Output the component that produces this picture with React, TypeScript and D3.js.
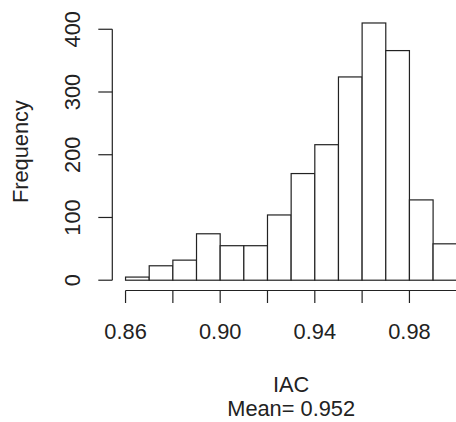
import React from 'react'
import * as d3 from 'd3'

// histogram of IAC values
const breaks = [0.86, 0.87, 0.88, 0.89, 0.9, 0.91, 0.92, 0.93, 0.94, 0.95, 0.96, 0.97, 0.98, 0.99, 1.0]
const counts = [5, 23, 32, 74, 55, 55, 104, 170, 216, 324, 410, 366, 128, 58]
const xTicks = [0.86, 0.88, 0.9, 0.92, 0.94, 0.96, 0.98, 1.0]
const xTickLabels = ['0.86', '', '0.90', '', '0.94', '', '0.98', '']
const yTicks = [0, 100, 200, 300, 400]
const xTitle = 'IAC'
const subTitle = 'Mean= 0.952'
const yTitle = 'Frequency'

export default function App() {
    const width = 456
    const height = 422
    const font = '"Liberation Sans", Arial, Helvetica, sans-serif'
    const fs = 21.8
    const ink = '#222'

    // R style 4% axis expansion
    const xExt = (breaks[breaks.length - 1] - breaks[0]) * 0.04
    const x = d3.scaleLinear()
        .domain([breaks[0] - xExt, breaks[breaks.length - 1] + xExt])
        .range([112.3, 470])
    const yMax = d3.max(counts) as number
    const y = d3.scaleLinear()
        .domain([-yMax * 0.04, yMax * 1.04])
        .range([290.5, 12.7])

    const axisY = x.range()[0]
    const axisX = y.range()[0]
    const midX = (x.range()[0] + x.range()[1]) / 2
    const midY = (y.range()[0] + y.range()[1]) / 2

    return (
        <svg width={width} height={height} style={{ position: 'absolute', left: 0, top: 0, background: '#fff' }}
            fontFamily={font} fontSize={fs}>
            {/* Bars */}
            <g fill="#fff" stroke={ink} strokeWidth={1.2}>
                {counts.map((c, i) => (
                    <rect key={i}
                        x={x(breaks[i])}
                        y={y(c)}
                        width={x(breaks[i + 1]) - x(breaks[i])}
                        height={y(0) - y(c)} />
                ))}
            </g>
            {/* X axis */}
            <g stroke={ink} strokeWidth={1.2}>
                <line x1={x(xTicks[0])} x2={x(xTicks[xTicks.length - 1])} y1={axisX} y2={axisX} />
                {xTicks.map((t) => (
                    <line key={t} x1={x(t)} x2={x(t)} y1={axisX} y2={axisX + 12.5} />
                ))}
            </g>
            {xTicks.map((t, i) => (
                <text key={t} x={x(t)} y={339} textAnchor="middle" fill={ink}>{xTickLabels[i]}</text>
            ))}
            {/* Y axis */}
            <g stroke={ink} strokeWidth={1.2}>
                <line x1={axisY} x2={axisY} y1={y(yTicks[0])} y2={y(yTicks[yTicks.length - 1])} />
                {yTicks.map((t) => (
                    <line key={t} x1={axisY - 14} x2={axisY} y1={y(t)} y2={y(t)} />
                ))}
            </g>
            {yTicks.map((t) => (
                <text key={t} transform={`translate(80,${y(t)}) rotate(-90)`} textAnchor="middle" fill={ink}>{t}</text>
            ))}
            {/* Titles */}
            <text x={midX} y={391.5} textAnchor="middle" fill={ink}>{xTitle}</text>
            <text x={midX} y={416} textAnchor="middle" fill={ink}>{subTitle}</text>
            <text transform={`translate(28,${midY}) rotate(-90)`} textAnchor="middle" fill={ink}>{yTitle}</text>
        </svg>
    )
}
